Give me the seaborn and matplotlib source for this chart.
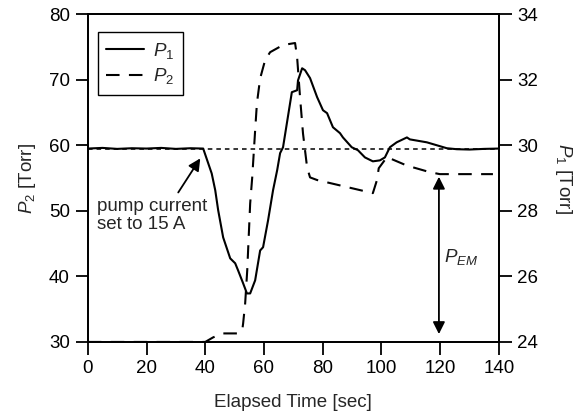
import matplotlib
matplotlib.use("Agg")
import matplotlib.pyplot as plt
import seaborn as sns
import pandas as pd

# ---- data ----
t_p1 = [0, 5, 10, 15, 20, 25, 30, 35, 39.3, 42.2, 43.4, 44.4, 46.1, 48.5, 50.2, 51.2,
        52.9, 54.2, 55.3, 57.0, 58.7, 59.7, 61.4, 63.1, 64.5, 65.5, 66.5, 69.5, 71.3,
        71.6, 73.0, 74.0, 75.7, 78.1, 80.1, 81.5, 83.5, 85.9, 86.9, 89.9, 92.0, 94.4,
        97.1, 99.5, 101.2, 102.9, 105.2, 108.7, 109.7, 115.5, 118.9, 122.3, 125.7,
        130, 135, 140]
p1 = [29.90, 29.92, 29.89, 29.91, 29.90, 29.92, 29.89, 29.91, 29.90, 29.14, 28.63, 28.02,
      27.19, 26.55, 26.40, 26.18, 25.79, 25.48, 25.48, 25.88, 26.79, 26.89, 27.71, 28.63,
      29.24, 29.76, 29.94, 31.62, 31.68, 31.98, 32.35, 32.29, 32.05, 31.47, 31.07, 30.98,
      30.55, 30.37, 30.24, 29.94, 29.85, 29.63, 29.51, 29.54, 29.63, 29.94, 30.09, 30.24,
      30.18, 30.09, 30.00, 29.91, 29.88, 29.87, 29.89, 29.90]

t_p2 = [0, 40, 42.7, 46.1, 51.2, 52.6, 52.9, 53.6, 54.3, 55.3, 56.0, 57.0, 57.6, 58.7,
        60.4, 62.1, 66.5, 70.6, 71.3, 72.3, 73.3, 74.7, 75.7, 78.1, 97.1, 98.5, 99.1,
        101.9, 108.7, 116.5, 119.9, 138]
p2 = [30.0, 30.0, 30.7, 31.3, 31.3, 31.8, 32.8, 35.9, 40.9, 51.1, 55.1, 62.3, 66.4, 70.2,
      73.0, 74.2, 75.3, 75.6, 73.4, 67.3, 61.8, 56.6, 55.1, 54.7, 52.7, 54.7, 56.5,
      58.2, 56.9, 55.9, 55.6, 55.6]

ref_t = [0, 140]
ref_p1 = [29.88, 29.88]

x_ticks = [0, 20, 40, 60, 80, 100, 120, 140]
left_ticks = [30, 40, 50, 60, 70, 80]
right_ticks = [24, 26, 28, 30, 32, 34]

df1 = pd.DataFrame({"t": t_p1, "p": p1})
df2 = pd.DataFrame({"t": t_p2, "p": p2})
dfr = pd.DataFrame({"t": ref_t, "p": ref_p1})

sns.set_theme(style="ticks")
plt.rcParams['font.family'] = ['Liberation Sans', 'DejaVu Sans']
plt.rcParams['mathtext.fontset'] = 'custom'
plt.rcParams['mathtext.rm'] = 'Liberation Sans'
plt.rcParams['mathtext.it'] = 'Liberation Sans:italic'
plt.rcParams['mathtext.bf'] = 'Liberation Sans:bold'

fig = plt.figure(figsize=(5.74, 4.17), dpi=100)
ax = fig.add_axes([0.153, 0.180, 0.716, 0.786])
ax2 = ax.twinx()

FS = 13.5
# P2 on left axis (dashed)
sns.lineplot(data=df2, x="t", y="p", ax=ax, color="black", lw=1.5,
             estimator=None, sort=False)
ax.lines[-1].set_dashes((6.5, 4.5))
# P1 on right axis (solid)
sns.lineplot(data=df1, x="t", y="p", ax=ax2, color="black", lw=1.5,
             estimator=None, sort=False)
sns.lineplot(data=dfr, x="t", y="p", ax=ax2, color="black", lw=1.1,
             estimator=None, sort=False)
ax2.lines[-1].set_dashes((3, 2.6))

ax.set_xlim(0, 140)
ax.set_ylim(30, 80)
ax2.set_ylim(24, 34)
ax.set_xticks(x_ticks)
ax.set_yticks(left_ticks)
ax2.set_yticks(right_ticks)

for a in (ax, ax2):
    for s in a.spines.values():
        s.set_visible(True)
        s.set_color("black")
        s.set_linewidth(1.3)
    a.tick_params(axis="both", direction="out", length=9, width=1.3,
                  colors="black", labelsize=FS, pad=4)

ax.set_xlabel("Elapsed Time [sec]", fontsize=FS, labelpad=12.5)
ax.set_ylabel("$P_2$ [Torr]", fontsize=FS, labelpad=8)
ax2.set_ylabel("$P_1$ [Torr]", fontsize=FS, rotation=270, labelpad=26)

# legend
from matplotlib.lines import Line2D
h1 = Line2D([], [], color="black", lw=1.5)
h2 = Line2D([], [], color="black", lw=1.5, dashes=(6.5, 4.5))
leg = ax.legend([h1, h2], ["$P_1$", "$P_2$"], loc="upper left",
                bbox_to_anchor=(0.024, 0.945), borderaxespad=0, fontsize=FS,
                fancybox=False, framealpha=1, edgecolor="black",
                handlelength=2.0, borderpad=0.45, labelspacing=0.3,
                handletextpad=0.5)
leg.get_frame().set_linewidth(1.0)

# annotations
ax.text(3.2, 51.9, "pump current\nset to 15 A", fontsize=FS, ha="left", va="top",
        linespacing=1.05)
ax.annotate("", xy=(38.3, 58.0), xytext=(30.8, 52.8),
            arrowprops=dict(arrowstyle="-|>", color="black", lw=1.3,
                            mutation_scale=18, shrinkA=0, shrinkB=0))
ax.annotate("", xy=(119.6, 55.2), xytext=(119.6, 31.2),
            arrowprops=dict(arrowstyle="<|-|>", color="black", lw=1.3,
                            mutation_scale=18, shrinkA=0, shrinkB=0))
ax.text(121.4, 43.0, "$P_{EM}$", fontsize=FS, ha="left", va="center")

fig.savefig("out.png", dpi=100, facecolor="white")
